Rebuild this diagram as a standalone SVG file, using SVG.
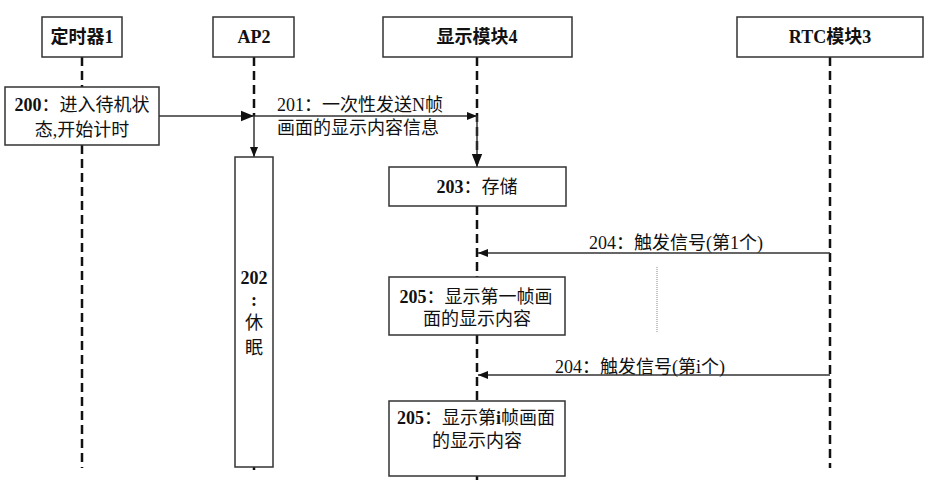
<svg xmlns="http://www.w3.org/2000/svg" width="930" height="480" viewBox="0 0 930 480">
<defs>
<style>
.box{fill:#fff;stroke:#333;stroke-width:1.5}
.life{stroke:#111;stroke-width:2.5;stroke-dasharray:9 5;fill:none}
.msg{stroke:#333;stroke-width:1.5;fill:none}
text{font-family:"Liberation Serif","Noto Sans CJK SC",serif;font-size:18px;fill:#111}
.hd{font-weight:bold;text-anchor:middle}
.c{text-anchor:middle}
.b{font-weight:bold}
</style>
<marker id="ah" viewBox="0 0 10 10" refX="10" refY="5" markerWidth="10" markerHeight="10" markerUnits="userSpaceOnUse" orient="auto"><path d="M0,1 L10,5 L0,9 Z" fill="#111"/></marker>
<marker id="ahb" viewBox="0 0 10 10" refX="10" refY="5" markerWidth="13" markerHeight="13" markerUnits="userSpaceOnUse" orient="auto"><path d="M0,1 L10,5 L0,9 Z" fill="#111"/></marker>
</defs>
<g id="lifelines">
<line class="life" x1="82" y1="57" x2="82" y2="87"/>
<line class="life" x1="82" y1="145" x2="82" y2="468"/>
<line class="life" x1="254" y1="57" x2="254" y2="116"/>
<line class="life" x1="254" y1="467" x2="254" y2="470"/>
<line class="life" x1="477" y1="57" x2="477" y2="167"/>
<line class="life" x1="477" y1="206" x2="477" y2="277"/>
<line class="life" x1="477" y1="335" x2="477" y2="401"/>
<line class="life" x1="477" y1="476" x2="477" y2="480"/>
<line class="life" x1="830" y1="57" x2="830" y2="468"/>
<line x1="657" y1="267" x2="657" y2="333" stroke="#888" stroke-width="1" stroke-dasharray="1 1"/>
</g>
<g id="connectors">
<line class="msg" x1="159" y1="116" x2="254" y2="116" marker-end="url(#ahb)"/>
<line class="msg" x1="254" y1="116" x2="477" y2="116" marker-end="url(#ah)"/>
<line class="msg" x1="254" y1="116" x2="254" y2="157" stroke-width="2" marker-end="url(#ah)"/>
<line class="msg" x1="477" y1="116" x2="477" y2="167" stroke-width="2" marker-end="url(#ahb)"/>
<line class="msg" x1="830" y1="253" x2="478" y2="253" marker-end="url(#ah)"/>
<line class="msg" x1="830" y1="375" x2="478" y2="375" marker-end="url(#ah)"/>
<text x="277" y="111">201：一次性发送N帧</text>
<text x="277" y="134">画面的显示内容信息</text>
<text class="c" x="676" y="249">204：触发信号(第1个)</text>
<text class="c" x="640" y="373">204：触发信号(第i个)</text>
</g>
<g id="timer1"><rect class="box" x="42" y="17" width="80" height="40"/><text class="hd" x="82" y="43">定时器1</text></g>
<g id="ap2"><rect class="box" x="213" y="17" width="81" height="40"/><text class="hd" x="254" y="43">AP2</text></g>
<g id="display4"><rect class="box" x="383" y="17" width="189" height="40"/><text class="hd" x="477" y="43">显示模块4</text></g>
<g id="rtc3"><rect class="box" x="737" y="17" width="186" height="40"/><text class="hd" x="830" y="43">RTC模块3</text></g>
<g id="s200"><rect class="box" x="5" y="87" width="154" height="58"/>
<text class="c" x="82" y="111"><tspan class="b">200</tspan>：进入待机状</text>
<text class="c" x="82" y="136">态,开始计时</text></g>
<g id="s202"><rect class="box" x="235" y="157" width="38" height="310"/>
<text class="c b" x="254" y="284">202</text>
<text class="c b" x="254" y="306">:</text>
<text class="c" x="254" y="329">休</text>
<text class="c" x="254" y="354">眠</text></g>
<g id="s203"><rect class="box" x="389" y="167" width="177" height="39"/>
<text class="c" x="477" y="193"><tspan class="b">203</tspan>：存储</text></g>
<g id="s205a"><rect class="box" x="389" y="277" width="176" height="58"/>
<text class="c" x="476" y="303"><tspan class="b">205</tspan>：显示第一帧画</text>
<text class="c" x="477" y="325">面的显示内容</text></g>
<g id="s205b"><rect class="box" x="389" y="401" width="176" height="75"/>
<text class="c" x="476" y="424"><tspan class="b">205</tspan>：显示第<tspan class="b">i</tspan>帧画面</text>
<text class="c" x="477" y="447">的显示内容</text></g>
</svg>
